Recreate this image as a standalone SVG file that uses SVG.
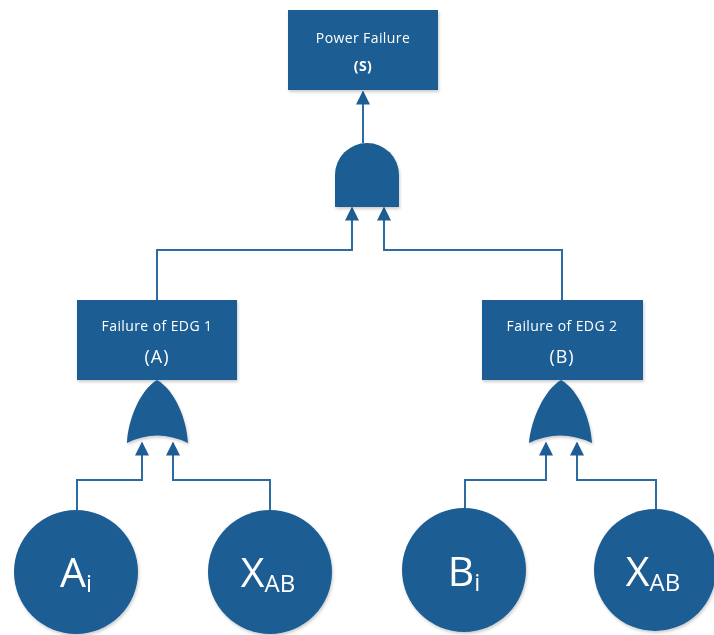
<svg xmlns="http://www.w3.org/2000/svg" width="714" height="635" viewBox="0 0 714 635">
<style>
.shape{fill:#1d5d93}
.conn{fill:none;stroke:#2d6ca3;stroke-width:2;marker-end:url(#arr)}
.lbl{fill:#fff;font-family:"Open Sans","Noto Sans",sans-serif;text-anchor:middle}
.small{font-size:14px;letter-spacing:0.4px}
.mid{font-size:18px;letter-spacing:1px}
.big{font-size:41px}
.sub{font-size:24px}
</style>
<defs>
<marker id="arr" viewBox="0 0 10 10" refX="9" refY="5" markerUnits="userSpaceOnUse" markerWidth="15" markerHeight="14" orient="auto">
<path d="M0,0 L10,5 L0,10 z" fill="#1d5d93"/>
</marker>
<filter id="sh" x="-10%" y="-10%" width="120%" height="130%">
<feDropShadow dx="1" dy="2" stdDeviation="1.5" flood-color="#000" flood-opacity="0.2"/>
</filter>
</defs>
<rect width="714" height="635" fill="#fff"/>
<g id="connectors">
<path class="conn" d="M363,143 V92"/>
<path class="conn" d="M157,300 V250 H352 V208"/>
<path class="conn" d="M562,300 V250 H384 V208"/>
<path class="conn" d="M77,510 V480 H142 V443"/>
<path class="conn" d="M270,510 V480 H173 V443"/>
<path class="conn" d="M465,510 V480 H546 V443"/>
<path class="conn" d="M656,510 V480 H577 V443"/>
</g>
<g id="top" filter="url(#sh)">
<rect class="shape" x="288" y="10" width="150" height="80"/>
<text class="lbl small" x="363" y="43">Power Failure</text>
<text class="lbl small" x="363" y="71" font-weight="bold">(S)</text>
</g>
<g id="and-gate" filter="url(#sh)">
<path class="shape" d="M335,207 L335,175 A32,32 0 0 1 399,175 L399,207 Z"/>
</g>
<g id="edg1" filter="url(#sh)">
<rect class="shape" x="77" y="300" width="160" height="80"/>
<text class="lbl small" x="157" y="331">Failure of EDG 1</text>
<text class="lbl mid" x="157" y="363">(A)</text>
</g>
<g id="edg2" filter="url(#sh)">
<rect class="shape" x="482" y="300" width="161" height="80"/>
<text class="lbl small" x="562" y="331">Failure of EDG 2</text>
<text class="lbl mid" x="562" y="363">(B)</text>
</g>
<g id="or-gate-1" filter="url(#sh)">
<path class="shape" d="M157,380 C140,390 128,420 127,443 Q157,428 188,443 C187,420 175,390 157,380 Z"/>
</g>
<g id="or-gate-2" filter="url(#sh)">
<path class="shape" d="M561,380 C544,390 531,420 529,443 Q560,428 592,443 C591,420 579,390 561,380 Z"/>
</g>
<g id="ai" filter="url(#sh)">
<circle class="shape" cx="76" cy="572" r="62"/>
<text class="lbl big" x="76" y="587">A<tspan class="sub" dy="5">i</tspan></text>
</g>
<g id="xab1" filter="url(#sh)">
<circle class="shape" cx="270" cy="572" r="62"/>
<text class="lbl big" x="268" y="587">X<tspan class="sub" dy="5">AB</tspan></text>
</g>
<g id="bi" filter="url(#sh)">
<circle class="shape" cx="464" cy="570" r="62"/>
<text class="lbl big" x="464" y="586">B<tspan class="sub" dy="5">i</tspan></text>
</g>
<g id="xab2" filter="url(#sh)">
<circle class="shape" cx="655" cy="570" r="61"/>
<text class="lbl big" x="653" y="586">X<tspan class="sub" dy="5">AB</tspan></text>
</g>
</svg>
